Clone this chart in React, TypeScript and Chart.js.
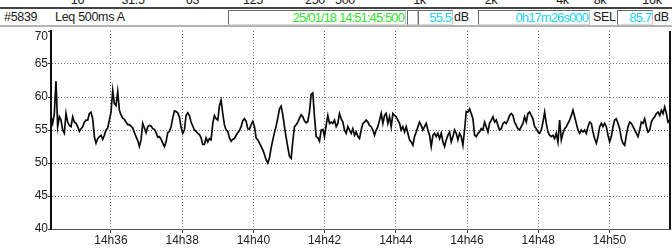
import React, { useEffect, useRef } from "react";
import { Chart, registerables } from "chart.js";

Chart.register(...registerables);

// ---- header texts ----
const BAND_LABELS = ["16", "31.5", "63", "125", "250", "500", "1k", "2k", "4k", "8k", "16k"];
const RECORD_ID = "#5839";
const MEASURE_LABEL = "Leq 500ms A";
const END_STAMP = "25/01/18 14:51:45:500";
const LEQ_VALUE = "55.5";
const DURATION = "0h17m26s000";
const SEL_LABEL = "SEL";
const SEL_VALUE = "85.7";
const UNIT = "dB";

// ---- time axis (minutes past the hour) ----
const HOUR = 14;
const START_MINUTE = 34.3165;
const END_MINUTE = 51.7;
const SAMPLE_SECONDS = 2.81;
const X_TICK_MINUTES = [36, 38, 40, 42, 44, 46, 48, 50];
const Y_TICKS = [40, 45, 50, 55, 60, 65, 70];

// ---- Leq values (dB) ----
const LEQ_DB_PART1 = [
  57, 56, 57.5, 62.4, 55.5, 57, 56.5, 55, 54.5, 57.5,
  56.2, 55.7, 55.5, 57, 56.2, 56, 55.5, 54.8, 55.2, 55.5,
  56.2, 56.5, 56.5, 57.5, 57.7, 56.7, 54, 53, 53.7, 54,
  54.2, 53.6, 54.2, 55, 55.3, 56.5, 57.7, 61, 59, 58.7,
  60.8, 58, 57.3, 56.8, 56.6, 56.2, 55.8, 55.8, 55.6, 55.3,
  54.6, 54, 53.4, 52.5, 53.5, 56, 55.3, 54.6, 55.5, 55.7,
  55.6, 55.2, 55.1, 54.6, 53.9, 54, 53.6, 53, 52.5, 53.2,
  54.6, 54.8, 55.5, 56.8, 57.9, 57.8, 57.6, 57, 55.4, 54.5,
  55, 57.2, 57.6, 57.2, 56.2, 55.6, 55, 54.8, 54.5, 54.3,
  53.8, 52.8, 52.8, 53.8,
];
const LEQ_DB_PART2 = [
  53.2, 53.7, 53.5, 56, 57.2, 56.7, 56.5, 58.7, 59.5, 57.5,
  55.8, 55, 54.8, 53.8, 53.3, 53.6, 53.7, 54.2, 54.6, 54.9,
  55.5, 56.4, 56.7, 56.3, 55.2, 55.1, 55.8, 56.3, 55.5, 53.8,
  53.5, 53, 52.5, 52, 51.3, 50.5, 50, 50.8, 52.3, 53.5,
  54.6, 55.6, 56.8, 58.2, 58.6, 57.3, 55.5, 53.9, 52.4, 51,
  50.7, 53.3, 55.5, 55.8, 56.2, 56.8, 57.3, 57, 56.4, 56.1,
  56.3, 57.8, 60.4, 60.6, 57, 54, 53.8, 53.3, 55, 55.1,
  54, 55.7, 57.2, 56, 56.2, 56, 56.5, 55.5, 56, 57.5,
  56.7, 56.2, 55, 54.5, 55.5, 55, 54.5, 55.2, 54.2, 54.7,
  54, 53.7,
];
const LEQ_DB_PART3 = [
  55, 56, 56.2, 56.5, 56.2, 55.7, 55.5, 55, 54.2, 55,
  55.5, 56.5, 57.5, 56, 57.2, 57.5, 56, 57, 55.5, 57.5,
  57.2, 57, 56.5, 56, 55, 55.5, 54.7, 55.5, 54.5, 53.5,
  53.2, 52.7, 54, 54.7, 55.5, 56.2, 55.7, 55, 55.5, 56,
  55, 54.2, 52.5, 54.2, 54.5, 54, 54.5, 53.7, 54.5, 53.2,
  52.5, 53.5, 54.2, 54.7, 53.2, 54, 55, 54.5, 53.5, 54.5,
  54, 52.7, 55, 57.8, 57.7, 58.2, 57.5, 56.7, 54.2, 54,
  54.5, 54.7, 55.2, 55, 56.2, 55.5, 54.7, 56, 56.5, 57,
  56.2, 56.5, 55.7, 55, 55.2, 56, 56.2, 56, 56.5, 57.2,
  57.5, 57.2,
];
const LEQ_DB_PART4 = [
  56.2, 55.7, 55.2, 55, 55.5, 56, 57, 56.2, 57.5, 57.7,
  57.2, 56.7, 55.5, 55.2, 54.7, 54.5, 55, 56.2, 57.7, 56,
  54.7, 54.2, 54, 54.2, 53.7, 54.5, 53.2, 56.5, 53.5, 54.5,
  55.2, 55.5, 56, 56.5, 57.2, 58, 57, 56, 55, 54.5,
  55, 54.7, 55, 54.5, 55.5, 56.2, 56, 54.7, 53.7, 53,
  54, 55.5, 56, 55.5, 56, 55.5, 54.2, 53.2, 54, 55.5,
  56.5, 56.7, 56, 55.2, 53.7, 53, 52.7, 54.2, 55.5, 56.2,
  56, 55.5, 55, 54.5, 54, 55, 56.2, 56, 56.7, 55.5,
  54.7, 55, 56.2, 56.7, 57, 57.5, 57.7, 57.2, 58, 57.5,
  58.5, 57.5, 56.2, 56.5,
];
const LEQ_DB = [...LEQ_DB_PART1, ...LEQ_DB_PART2, ...LEQ_DB_PART3, ...LEQ_DB_PART4];

// ---- layout (pixels) ----
const BAND_LABEL_X = [77.5, 133, 192.5, 253, 315, 345, 419.5, 491, 562.5, 600, 652];
const FONT_FAMILY = '"Liberation Sans", Arial, Helvetica, sans-serif';
const GREEN = "#33e033";
const CYAN = "#22d2ee";
const GRID = "#6e6e6e";

const boxStyle = (left: number, width: number, color: string): React.CSSProperties => ({
  position: "absolute",
  left,
  top: 10,
  width,
  height: 15,
  boxSizing: "border-box",
  borderTop: "1px solid #6a6a6a",
  borderLeft: "1px solid #6a6a6a",
  borderRight: "1px solid #c4c4c4",
  borderBottom: "1px solid #dcdcdc",
  background: "#fff",
  color,
  fontSize: 13,
  lineHeight: "13px",
  textAlign: "right",
  paddingRight: 1,
  letterSpacing: -0.9,
  whiteSpace: "nowrap",
  overflow: "hidden",
});

const labelStyle = (left: number): React.CSSProperties => ({
  position: "absolute",
  left,
  top: 10,
  fontSize: 12.5,
  lineHeight: "14px",
  letterSpacing: -0.3,
  color: "#1a1a1a",
  whiteSpace: "nowrap",
});

export default function App() {
  const canvasRef = useRef<HTMLCanvasElement>(null);

  useEffect(() => {
    const canvas = canvasRef.current;
    if (!canvas) return;
    const points = LEQ_DB.map((v, i) => ({ x: START_MINUTE + (i * SAMPLE_SECONDS) / 60, y: v }));
    const yMin = Y_TICKS[0];
    const yMax = Y_TICKS[Y_TICKS.length - 1];
    const font = { family: FONT_FAMILY, size: 12 };

    const framePlugin = {
      id: "frame",
      afterDraw(chart: any) {
        const { ctx, chartArea: a } = chart;
        ctx.save();
        ctx.strokeStyle = "#111";
        ctx.lineWidth = 2;
        ctx.beginPath();
        ctx.moveTo(a.right, a.top);
        ctx.lineTo(a.right, a.bottom);
        ctx.stroke();
        ctx.fillStyle = "#222";
        ctx.font = `12px ${FONT_FAMILY}`;
        ctx.textAlign = "right";
        ctx.textBaseline = "alphabetic";
        ctx.fillText(String(yMax), a.left - 3, a.top + 9);
        ctx.restore();
      },
    };

    const chart = new Chart(canvas, {
      type: "line",
      data: {
        datasets: [
          {
            data: points,
            borderColor: "#0a0a0a",
            borderWidth: 1.7,
            pointRadius: 0,
            tension: 0,
            fill: false,
          },
        ],
      },
      options: {
        animation: false,
        responsive: false,
        devicePixelRatio: 1,
        layout: { padding: { top: 4, right: 2, left: 0, bottom: 0 } },
        plugins: { legend: { display: false }, tooltip: { enabled: false } },
        scales: {
          x: {
            type: "linear",
            min: START_MINUTE,
            max: END_MINUTE,
            afterBuildTicks: (s: any) => {
              s.ticks = X_TICK_MINUTES.map((v) => ({ value: v }));
            },
            afterFit: (s: any) => {
              s.height = 19;
              s.paddingLeft = 0;
              s.paddingRight = 0;
            },
            ticks: {
              callback: (v: any) => `${HOUR}h${String(v).padStart(2, "0")}`,
              font,
              color: "#222",
              padding: 0,
              maxRotation: 0,
              autoSkip: false,
            },
            grid: { color: GRID, lineWidth: 1, tickLength: 4, tickColor: "#444" },
            border: { display: true, color: "#555", width: 1, dash: [1, 2] },
          },
          y: {
            min: yMin,
            max: yMax,
            afterBuildTicks: (s: any) => {
              s.ticks = Y_TICKS.map((v) => ({ value: v }));
            },
            afterFit: (s: any) => {
              s.width = 51;
              s.paddingTop = 0;
              s.paddingBottom = 0;
            },
            ticks: {
              callback: (v: any) => (v === yMax ? "" : String(v)),
              font,
              color: "#222",
              padding: 0,
            },
            grid: {
              color: (c: any) =>
                c.tick && (c.tick.value === yMin || c.tick.value === yMax) ? "rgba(0,0,0,0)" : GRID,
              lineWidth: 1,
              tickLength: 3,
              tickColor: "#333",
            },
            border: { display: true, color: "#111", width: 2, dash: [1, 2] },
          },
        },
      },
      plugins: [framePlugin],
    } as any);

    return () => chart.destroy();
  }, []);

  return (
    <div
      style={{
        position: "absolute",
        left: 0,
        top: 0,
        width: 672,
        height: 248,
        background: "#fff",
        overflow: "hidden",
        fontFamily: FONT_FAMILY,
      }}
    >
      {BAND_LABELS.map((b, i) => (
        <span
          key={b}
          style={{
            position: "absolute",
            left: BAND_LABEL_X[i],
            top: -7,
            transform: "translateX(-50%)",
            fontSize: 12.5,
            lineHeight: "14px",
            letterSpacing: -0.3,
            color: "#1a1a1a",
            whiteSpace: "nowrap",
          }}
        >
          {b}
        </span>
      ))}
      <div style={{ position: "absolute", left: 0, top: 7, width: 672, height: 2, background: "#444" }} />
      <div style={{ position: "absolute", left: 0, top: 25, width: 672, height: 2, background: "#b4b4b4" }} />
      <span style={labelStyle(4)}>{RECORD_ID}</span>
      <span style={labelStyle(55)}>{MEASURE_LABEL}</span>
      <div style={boxStyle(228, 178, GREEN)}>{END_STAMP}</div>
      <div style={boxStyle(407, 11, CYAN)} />
      <div style={boxStyle(418, 35, CYAN)}>{LEQ_VALUE}</div>
      <span style={labelStyle(454)}>{UNIT}</span>
      <div style={boxStyle(478, 112, CYAN)}>{DURATION}</div>
      <span style={labelStyle(593)}>{SEL_LABEL}</span>
      <div style={boxStyle(617, 36, CYAN)}>{SEL_VALUE}</div>
      <span style={labelStyle(654)}>{UNIT}</span>
      <canvas
        ref={canvasRef}
        width={672}
        height={221}
        style={{ position: "absolute", left: 0, top: 27, width: 672, height: 221 }}
      />
    </div>
  );
}
